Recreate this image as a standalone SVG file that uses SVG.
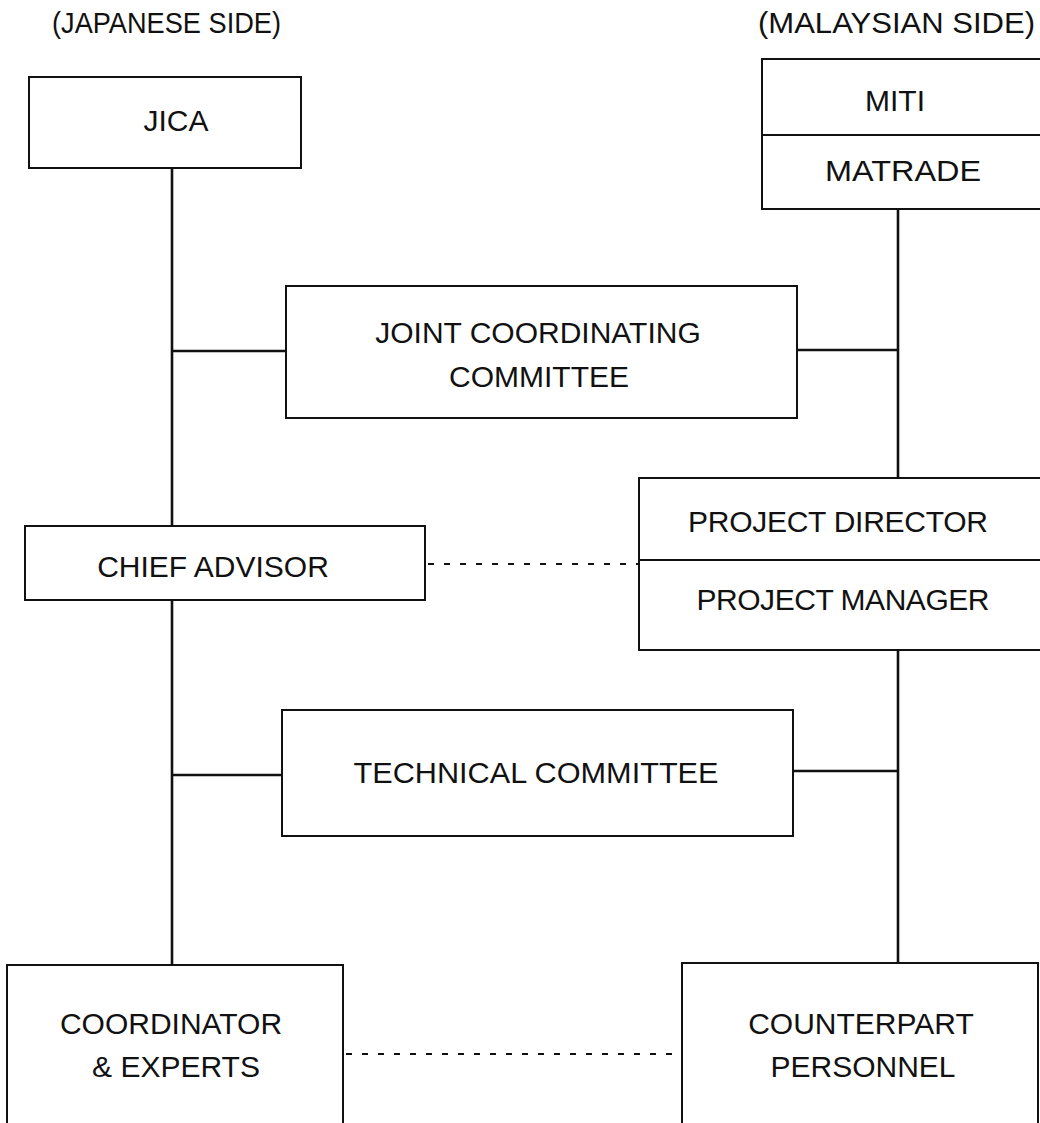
<svg xmlns="http://www.w3.org/2000/svg" width="1040" height="1123" viewBox="0 0 1040 1123">
<style>
  .box { fill: #ffffff; stroke: #111111; stroke-width: 2; }
  .div { stroke: #111111; stroke-width: 2; }
  .ln { stroke: #111111; stroke-width: 2.6; fill: none; }
  .dash { stroke: #111111; stroke-width: 2; stroke-dasharray: 6 10; fill: none; }
  text { font-family: "Liberation Sans", Arial, sans-serif; font-size: 30px; fill: #111111; text-anchor: middle; }
  .hdr { text-anchor: start; font-size: 29px; }
</style>
<rect x="0" y="0" width="1040" height="1123" fill="#ffffff"/>

<g id="headers">
  <text class="hdr" x="52" y="33" textLength="229" lengthAdjust="spacingAndGlyphs">(JAPANESE SIDE)</text>
  <text class="hdr" x="758" y="33" textLength="277" lengthAdjust="spacingAndGlyphs">(MALAYSIAN SIDE)</text>
</g>

<g id="connectors">
  <line class="ln" x1="172" y1="168" x2="172" y2="526"/>
  <line class="ln" x1="172" y1="600" x2="172" y2="965"/>
  <line class="ln" x1="172" y1="351" x2="286" y2="351"/>
  <line class="ln" x1="797" y1="350" x2="898" y2="350"/>
  <line class="ln" x1="898" y1="209" x2="898" y2="478"/>
  <line class="ln" x1="898" y1="650" x2="898" y2="963"/>
  <line class="ln" x1="172" y1="775" x2="282" y2="775"/>
  <line class="ln" x1="793" y1="771" x2="898" y2="771"/>
  <line class="dash" x1="428" y1="564" x2="639" y2="564"/>
  <line class="dash" x1="346" y1="1054" x2="682" y2="1054"/>
</g>

<g id="jica">
  <rect class="box" x="29" y="77" width="272" height="91"/>
  <text x="176" y="131">JICA</text>
</g>

<g id="miti-matrade">
  <rect class="box" x="762" y="59" width="290" height="150"/>
  <line class="div" x1="762" y1="135" x2="1045" y2="135"/>
  <text x="895" y="111">MITI</text>
  <text x="903" y="181" textLength="156" lengthAdjust="spacingAndGlyphs">MATRADE</text>
</g>

<g id="joint-coordinating-committee">
  <rect class="box" x="286" y="286" width="511" height="132"/>
  <text x="538" y="343">JOINT COORDINATING</text>
  <text x="539" y="387">COMMITTEE</text>
</g>

<g id="chief-advisor">
  <rect class="box" x="25" y="526" width="400" height="74"/>
  <text x="213" y="577">CHIEF ADVISOR</text>
</g>

<g id="project-director-manager">
  <rect class="box" x="639" y="478" width="410" height="172"/>
  <line class="div" x1="639" y1="560" x2="1045" y2="560"/>
  <text x="838" y="532" textLength="300" lengthAdjust="spacing">PROJECT DIRECTOR</text>
  <text x="843" y="610" textLength="293" lengthAdjust="spacing">PROJECT MANAGER</text>
</g>

<g id="technical-committee">
  <rect class="box" x="282" y="710" width="511" height="126"/>
  <text x="536" y="783" textLength="365" lengthAdjust="spacingAndGlyphs">TECHNICAL COMMITTEE</text>
</g>

<g id="coordinator-experts">
  <rect class="box" x="7" y="965" width="336" height="170"/>
  <text x="171" y="1034">COORDINATOR</text>
  <text x="176" y="1077">&amp; EXPERTS</text>
</g>

<g id="counterpart-personnel">
  <rect class="box" x="682" y="963" width="356" height="172"/>
  <text x="861" y="1034">COUNTERPART</text>
  <text x="863" y="1077">PERSONNEL</text>
</g>
</svg>
